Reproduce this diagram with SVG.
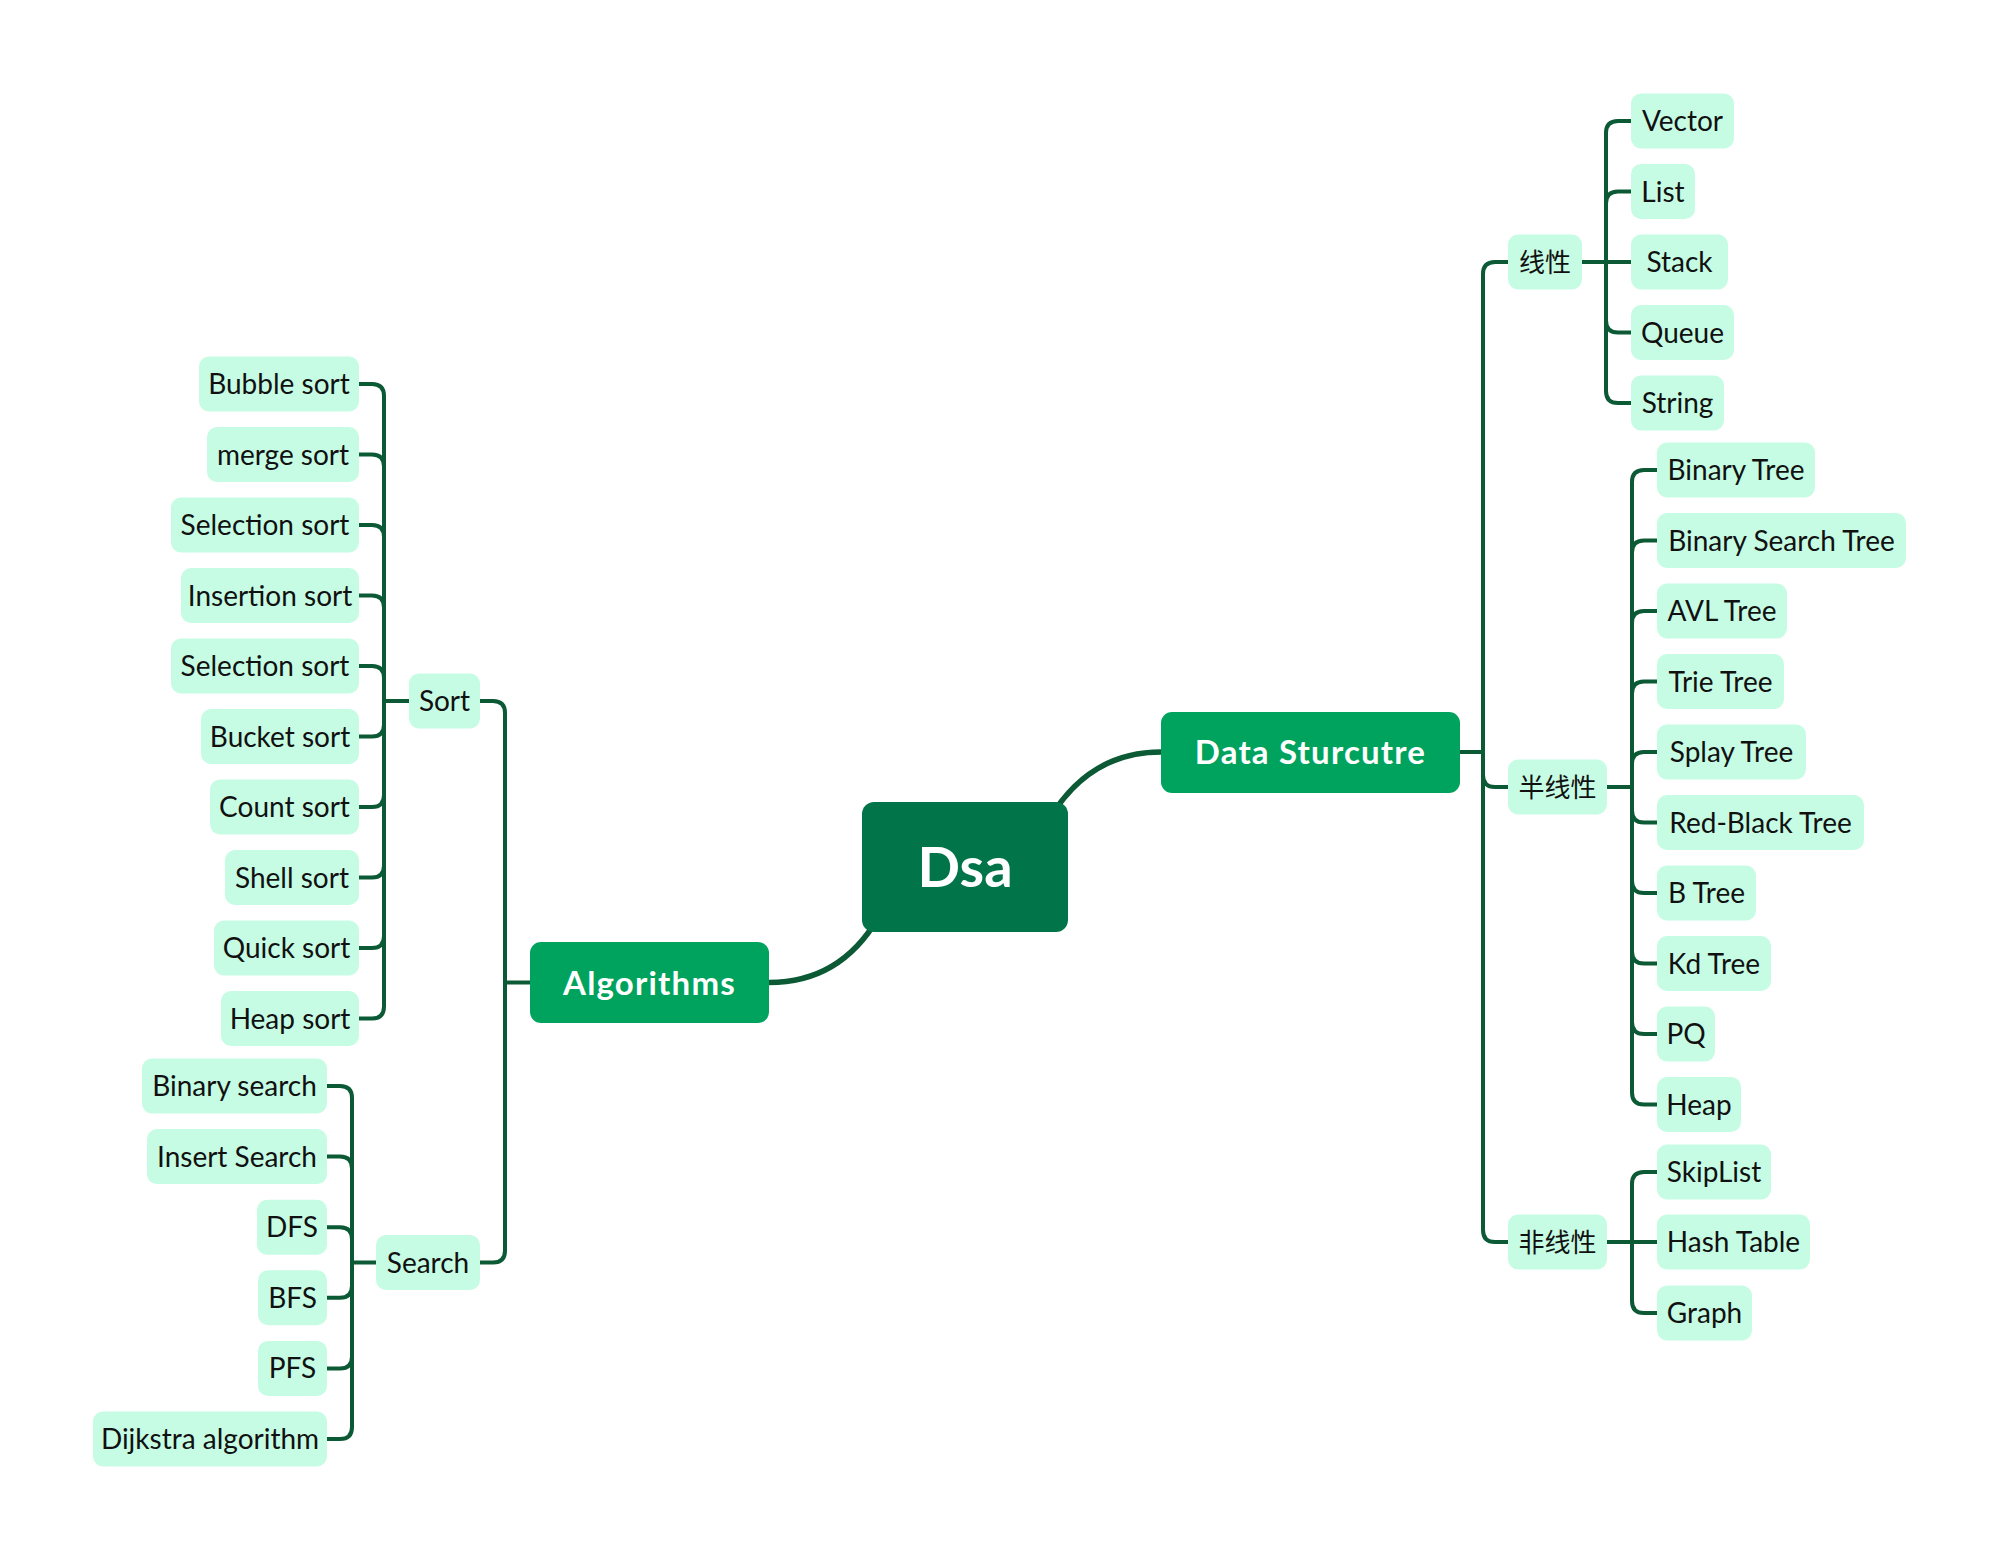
<svg xmlns="http://www.w3.org/2000/svg" width="2000" height="1560" viewBox="0 0 2000 1560">
<style>
.bg{fill:#ffffff}
.c{fill:none;stroke:#0b5a35;stroke-width:4;stroke-linecap:butt;stroke-linejoin:round}
.cm{fill:none;stroke:#0b5a35;stroke-width:5.5;stroke-linecap:round}
.n{fill:#c6fce4}
.t{font-family:Lato,"Noto Sans","Noto Sans CJK SC",sans-serif;font-size:28px;fill:#111111;text-anchor:middle}
.cjk{font-family:"Noto Sans CJK SC","Noto Sans",sans-serif;font-size:26px;fill:#111111;text-anchor:middle}
.mn{fill:#00a35e}
.mt{font-family:Lato,"Noto Sans",sans-serif;font-size:33px;font-weight:700;letter-spacing:1.2px;fill:#ffffff;text-anchor:middle}
.root{fill:#02744a}
.rt{font-family:Lato,"Noto Sans",sans-serif;font-size:56px;font-weight:700;fill:#ffffff;text-anchor:middle}
</style>
<rect class="bg" x="0" y="0" width="2000" height="1560"/>
<g id="connectors">
<path class="cm" d="M1050 818 Q1090 752 1161 752"/>
<path class="cm" d="M878 918 Q840 982.5 769 982.5"/>
<path class="c" d="M1459 752 H1483 V274 Q1483 262 1495 262 H1508"/>
<path class="c" d="M1483 752 V775 Q1483 787 1495 787 H1508"/>
<path class="c" d="M1483 752 V1230 Q1483 1242 1495 1242 H1508"/>
<path class="c" d="M1582 262 H1606 V133 Q1606 121 1618 121 H1631"/>
<path class="c" d="M1606 262 V203.5 Q1606 191.5 1618 191.5 H1631"/>
<path class="c" d="M1582 262 H1631"/>
<path class="c" d="M1606 262 V320.5 Q1606 332.5 1618 332.5 H1631"/>
<path class="c" d="M1606 262 V391 Q1606 403 1618 403 H1631"/>
<path class="c" d="M1607 787 H1632 V482 Q1632 470 1644 470 H1657"/>
<path class="c" d="M1632 787 V552.5 Q1632 540.5 1644 540.5 H1657"/>
<path class="c" d="M1632 787 V623 Q1632 611 1644 611 H1657"/>
<path class="c" d="M1632 787 V693.5 Q1632 681.5 1644 681.5 H1657"/>
<path class="c" d="M1632 787 V764 Q1632 752 1644 752 H1657"/>
<path class="c" d="M1632 787 V810.5 Q1632 822.5 1644 822.5 H1657"/>
<path class="c" d="M1632 787 V881 Q1632 893 1644 893 H1657"/>
<path class="c" d="M1632 787 V951.5 Q1632 963.5 1644 963.5 H1657"/>
<path class="c" d="M1632 787 V1022 Q1632 1034 1644 1034 H1657"/>
<path class="c" d="M1632 787 V1092.5 Q1632 1104.5 1644 1104.5 H1657"/>
<path class="c" d="M1607 1242 H1632 V1184 Q1632 1172 1644 1172 H1657"/>
<path class="c" d="M1607 1242 H1657"/>
<path class="c" d="M1632 1242 V1301 Q1632 1313 1644 1313 H1657"/>
<path class="c" d="M530 982.5 H505 V713 Q505 701 493 701 H480"/>
<path class="c" d="M505 982.5 V1250.5 Q505 1262.5 493 1262.5 H480"/>
<path class="c" d="M409 701 H384 V396 Q384 384 372 384 H359"/>
<path class="c" d="M384 701 V466.5 Q384 454.5 372 454.5 H359"/>
<path class="c" d="M384 701 V537 Q384 525 372 525 H359"/>
<path class="c" d="M384 701 V607.5 Q384 595.5 372 595.5 H359"/>
<path class="c" d="M384 701 V678 Q384 666 372 666 H359"/>
<path class="c" d="M384 701 V724.5 Q384 736.5 372 736.5 H359"/>
<path class="c" d="M384 701 V795 Q384 807 372 807 H359"/>
<path class="c" d="M384 701 V865.5 Q384 877.5 372 877.5 H359"/>
<path class="c" d="M384 701 V936 Q384 948 372 948 H359"/>
<path class="c" d="M384 701 V1006.5 Q384 1018.5 372 1018.5 H359"/>
<path class="c" d="M376 1262.5 H352 V1098 Q352 1086 340 1086 H327"/>
<path class="c" d="M352 1262.5 V1168.6 Q352 1156.6 340 1156.6 H327"/>
<path class="c" d="M352 1262.5 V1239.2 Q352 1227.2 340 1227.2 H327"/>
<path class="c" d="M352 1262.5 V1285.8 Q352 1297.8 340 1297.8 H327"/>
<path class="c" d="M352 1262.5 V1356.4 Q352 1368.4 340 1368.4 H327"/>
<path class="c" d="M352 1262.5 V1427 Q352 1439 340 1439 H327"/>
</g>
<g id="node-dsa"><rect class="root" x="862" y="802" width="206" height="130" rx="12"/><text class="rt" x="965" y="887">Dsa</text></g>
<g id="node-data-structure"><rect class="mn" x="1161" y="712" width="299" height="81" rx="11"/><text class="mt" x="1310.5" y="764">Data Sturcutre</text></g>
<g id="node-algorithms"><rect class="mn" x="530" y="942" width="239" height="81" rx="11"/><text class="mt" x="649.5" y="994.5">Algorithms</text></g>
<g id="node-linear"><rect class="n" x="1508" y="234.5" width="74" height="55" rx="10"/><text class="cjk" x="1545" y="271.5">线性</text></g>
<g id="node-semilinear"><rect class="n" x="1508" y="759.5" width="99" height="55" rx="10"/><text class="cjk" x="1557.5" y="796.5">半线性</text></g>
<g id="node-nonlinear"><rect class="n" x="1508" y="1214.5" width="99" height="55" rx="10"/><text class="cjk" x="1557.5" y="1251.5">非线性</text></g>
<g id="node-vector"><rect class="n" x="1631" y="93.5" width="103" height="55" rx="10"/><text class="t" x="1682.5" y="131">Vector</text></g>
<g id="node-list"><rect class="n" x="1631" y="164" width="64" height="55" rx="10"/><text class="t" x="1663" y="201.5">List</text></g>
<g id="node-stack"><rect class="n" x="1631" y="234.5" width="97" height="55" rx="10"/><text class="t" x="1679.5" y="272">Stack</text></g>
<g id="node-queue"><rect class="n" x="1631" y="305" width="103" height="55" rx="10"/><text class="t" x="1682.5" y="342.5">Queue</text></g>
<g id="node-string"><rect class="n" x="1631" y="375.5" width="93" height="55" rx="10"/><text class="t" x="1677.5" y="413">String</text></g>
<g id="node-binary-tree"><rect class="n" x="1657" y="442.5" width="158" height="55" rx="10"/><text class="t" x="1736" y="480">Binary Tree</text></g>
<g id="node-bst"><rect class="n" x="1657" y="513" width="249" height="55" rx="10"/><text class="t" x="1781.5" y="550.5">Binary Search Tree</text></g>
<g id="node-avl"><rect class="n" x="1657" y="583.5" width="130" height="55" rx="10"/><text class="t" x="1722" y="621">AVL Tree</text></g>
<g id="node-trie"><rect class="n" x="1657" y="654" width="127" height="55" rx="10"/><text class="t" x="1720.5" y="691.5">Trie Tree</text></g>
<g id="node-splay"><rect class="n" x="1657" y="724.5" width="149" height="55" rx="10"/><text class="t" x="1731.5" y="762">Splay Tree</text></g>
<g id="node-rbtree"><rect class="n" x="1657" y="795" width="207" height="55" rx="10"/><text class="t" x="1760.5" y="832.5">Red-Black Tree</text></g>
<g id="node-btree"><rect class="n" x="1657" y="865.5" width="99" height="55" rx="10"/><text class="t" x="1706.5" y="903">B Tree</text></g>
<g id="node-kdtree"><rect class="n" x="1657" y="936" width="114" height="55" rx="10"/><text class="t" x="1714" y="973.5">Kd Tree</text></g>
<g id="node-pq"><rect class="n" x="1657" y="1006.5" width="58" height="55" rx="10"/><text class="t" x="1686" y="1044">PQ</text></g>
<g id="node-heap"><rect class="n" x="1657" y="1077" width="84" height="55" rx="10"/><text class="t" x="1699" y="1114.5">Heap</text></g>
<g id="node-skiplist"><rect class="n" x="1657" y="1144.5" width="114" height="55" rx="10"/><text class="t" x="1714" y="1182">SkipList</text></g>
<g id="node-hashtable"><rect class="n" x="1657" y="1214.5" width="153" height="55" rx="10"/><text class="t" x="1733.5" y="1252">Hash Table</text></g>
<g id="node-graph"><rect class="n" x="1657" y="1285.5" width="95" height="55" rx="10"/><text class="t" x="1704.5" y="1323">Graph</text></g>
<g id="node-sort"><rect class="n" x="409" y="673.5" width="71" height="55" rx="10"/><text class="t" x="444.5" y="711">Sort</text></g>
<g id="node-search"><rect class="n" x="376" y="1235" width="104" height="55" rx="10"/><text class="t" x="428" y="1272.5">Search</text></g>
<g id="node-bubble"><rect class="n" x="199" y="356.5" width="160" height="55" rx="10"/><text class="t" x="279" y="394">Bubble sort</text></g>
<g id="node-merge"><rect class="n" x="207" y="427" width="152" height="55" rx="10"/><text class="t" x="283" y="464.5">merge sort</text></g>
<g id="node-selection1"><rect class="n" x="171" y="497.5" width="188" height="55" rx="10"/><text class="t" x="265" y="535">Selection sort</text></g>
<g id="node-insertion"><rect class="n" x="181" y="568" width="178" height="55" rx="10"/><text class="t" x="270" y="605.5">Insertion sort</text></g>
<g id="node-selection2"><rect class="n" x="171" y="638.5" width="188" height="55" rx="10"/><text class="t" x="265" y="676">Selection sort</text></g>
<g id="node-bucket"><rect class="n" x="201" y="709" width="158" height="55" rx="10"/><text class="t" x="280" y="746.5">Bucket sort</text></g>
<g id="node-count"><rect class="n" x="210" y="779.5" width="149" height="55" rx="10"/><text class="t" x="284.5" y="817">Count sort</text></g>
<g id="node-shell"><rect class="n" x="225" y="850" width="134" height="55" rx="10"/><text class="t" x="292" y="887.5">Shell sort</text></g>
<g id="node-quick"><rect class="n" x="214" y="920.5" width="145" height="55" rx="10"/><text class="t" x="286.5" y="958">Quick sort</text></g>
<g id="node-heapsort"><rect class="n" x="221" y="991" width="138" height="55" rx="10"/><text class="t" x="290" y="1028.5">Heap sort</text></g>
<g id="node-binsearch"><rect class="n" x="142" y="1058.5" width="185" height="55" rx="10"/><text class="t" x="234.5" y="1096">Binary search</text></g>
<g id="node-insertsearch"><rect class="n" x="147" y="1129.1" width="180" height="55" rx="10"/><text class="t" x="237" y="1166.6">Insert Search</text></g>
<g id="node-dfs"><rect class="n" x="257" y="1199.7" width="70" height="55" rx="10"/><text class="t" x="292" y="1237.2">DFS</text></g>
<g id="node-bfs"><rect class="n" x="258" y="1270.3" width="69" height="55" rx="10"/><text class="t" x="292.5" y="1307.8">BFS</text></g>
<g id="node-pfs"><rect class="n" x="258" y="1340.9" width="69" height="55" rx="10"/><text class="t" x="292.5" y="1378.4">PFS</text></g>
<g id="node-dijkstra"><rect class="n" x="93" y="1411.5" width="234" height="55" rx="10"/><text class="t" x="210" y="1449">Dijkstra algorithm</text></g>
</svg>
